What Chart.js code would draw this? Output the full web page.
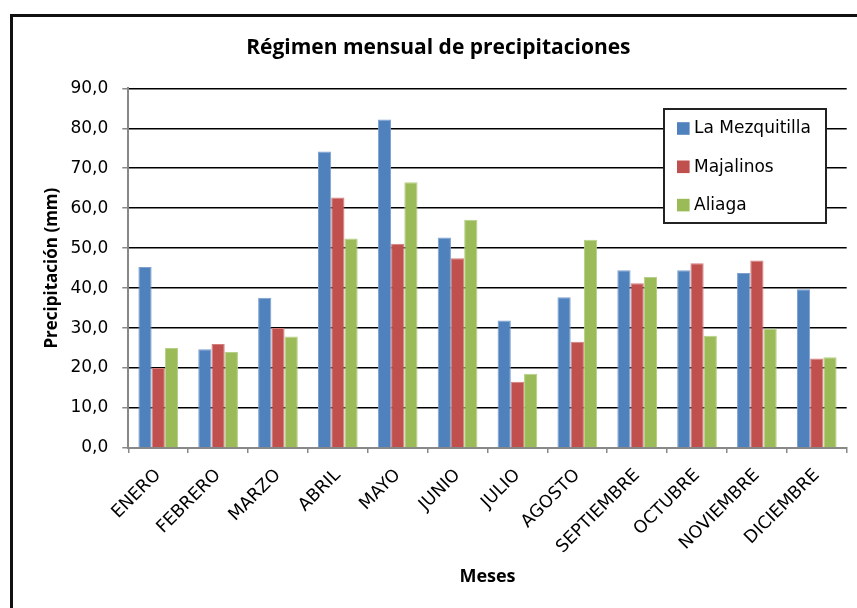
<!DOCTYPE html>
<html>
<head>
<meta charset="utf-8">
<script src="https://cdn.jsdelivr.net/npm/chart.js@4/dist/chart.umd.min.js"></script>
<style>
  html, body { margin: 0; padding: 0; background: #fff; }
  #wrap { position: relative; width: 857px; height: 608px; }
</style>
</head>
<body>
<div id="wrap"><canvas id="c" width="857" height="608"></canvas></div>
<script>
// Monthly precipitation (mm) for three stations
const months = ['ENERO', 'FEBRERO', 'MARZO', 'ABRIL', 'MAYO', 'JUNIO', 'JULIO',
                'AGOSTO', 'SEPTIEMBRE', 'OCTUBRE', 'NOVIEMBRE', 'DICIEMBRE'];
const laMezquitilla = [45.3, 24.7, 37.6, 74.2, 82.2, 52.7, 31.9, 37.7, 44.5, 44.5, 43.8, 39.7];
const majalinos     = [20.0, 26.0, 30.0, 62.7, 51.1, 47.5, 16.6, 26.6, 41.2, 46.2, 46.9, 22.4];
const aliaga        = [25.0, 24.0, 27.9, 52.4, 66.5, 57.1, 18.6, 52.1, 42.8, 28.1, 29.9, 22.7];
const yTicks = [0, 10, 20, 30, 40, 50, 60, 70, 80, 90];

const TICK_FONT = { family: "'DejaVu Sans', Verdana, sans-serif", size: 17 };
const BOLD_FONT = "'Open Sans', 'Liberation Sans', sans-serif";

// White background and the dark frame around the whole chart
const framePlugin = {
  id: 'frame',
  beforeDraw(chart) {
    const ctx = chart.ctx;
    ctx.save();
    ctx.fillStyle = '#fff';
    ctx.fillRect(0, 0, chart.width, chart.height);
    ctx.strokeStyle = '#111';
    ctx.lineWidth = 3;
    ctx.strokeRect(11.5, 15.5, chart.width + 20, chart.height + 20);
    ctx.restore();
  }
};

// Boxed legend placed inside the plot, upper right
const boxLegend = {
  id: 'boxLegend',
  afterDraw(chart) {
    const ctx = chart.ctx;
    const x = 664, y = 109, w = 162, h = 114;
    ctx.save();
    ctx.fillStyle = '#fff';
    ctx.fillRect(x, y, w, h);
    ctx.strokeStyle = '#222';
    ctx.lineWidth = 2;
    ctx.strokeRect(x, y, w, h);
    ctx.font = `${TICK_FONT.size}px ${TICK_FONT.family}`;
    ctx.textBaseline = 'middle';
    ctx.textAlign = 'left';
    chart.data.datasets.forEach((ds, i) => {
      const cy = y + 19.5 + i * 38.3;
      ctx.fillStyle = ds.backgroundColor;
      ctx.fillRect(x + 13, cy - 6.3, 12.6, 12.6);
      ctx.fillStyle = '#000';
      ctx.fillText(ds.label, x + 30, cy + 0.5);
    });
    ctx.restore();
  }
};

new Chart(document.getElementById('c'), {
  type: 'bar',
  data: {
    labels: months,
    datasets: [
      { label: 'La Mezquitilla', data: laMezquitilla, backgroundColor: '#4F81BD', borderColor: '#7DA0CF', borderWidth: 1 },
      { label: 'Majalinos',      data: majalinos,     backgroundColor: '#C0504D', borderColor: '#D27E7C', borderWidth: 1 },
      { label: 'Aliaga',         data: aliaga,        backgroundColor: '#9BBB59', borderColor: '#B7CF86', borderWidth: 1 }
    ]
  },
  options: {
    responsive: false,
    animation: false,
    devicePixelRatio: 1,
    datasets: { bar: { categoryPercentage: 0.663, barPercentage: 1.0 } },
    layout: { padding: { left: 30, right: 10.3, top: 0, bottom: 0 } },
    plugins: {
      legend: { display: false },
      tooltip: { enabled: false },
      title: {
        display: true,
        text: 'Régimen mensual de precipitaciones',
        color: '#000',
        font: { family: BOLD_FONT, size: 21, weight: 'bold', lineHeight: 1.2 },
        padding: { top: 35, bottom: 28.1 }
      }
    },
    scales: {
      x: {
        grid: {
          offset: true,
          drawOnChartArea: false,
          drawTicks: true,
          tickLength: 5,
          tickColor: '#888',
          lineWidth: 1.5
        },
        border: { color: '#888', width: 2 },
        ticks: {
          color: '#000',
          font: { family: TICK_FONT.family, size: 17.5 },
          minRotation: 45,
          maxRotation: 45,
          autoSkip: false,
          padding: 12
        },
        title: {
          display: true,
          text: 'Meses',
          color: '#000',
          font: { family: BOLD_FONT, size: 18, weight: 'bold', lineHeight: 1.2 },
          padding: { top: 0, bottom: 20.5 }
        },
        afterFit(scale) { scale.height = 160; }
      },
      y: {
        min: 0,
        max: 90,
        grid: {
          color: (c) => (c.tick && c.tick.value === 0 ? '#888' : '#000'),
          lineWidth: 1.5,
          tickColor: '#888',
          tickLength: 6
        },
        border: { color: '#888', width: 2 },
        afterBuildTicks(scale) { scale.ticks = yTicks.map(v => ({ value: v })); },
        ticks: {
          color: '#000',
          font: TICK_FONT,
          padding: 14,
          callback: (v) => Number(v).toFixed(1).replace('.', ',')
        },
        title: {
          display: true,
          text: 'Precipitación (mm)',
          color: '#000',
          font: { family: BOLD_FONT, size: 17, weight: 'bold', lineHeight: 1.2 },
          padding: { top: 11.5, bottom: 0 }
        },
        afterFit(scale) { scale.width = 98.3; }
      }
    }
  },
  plugins: [framePlugin, boxLegend]
});
</script>
</body>
</html>
